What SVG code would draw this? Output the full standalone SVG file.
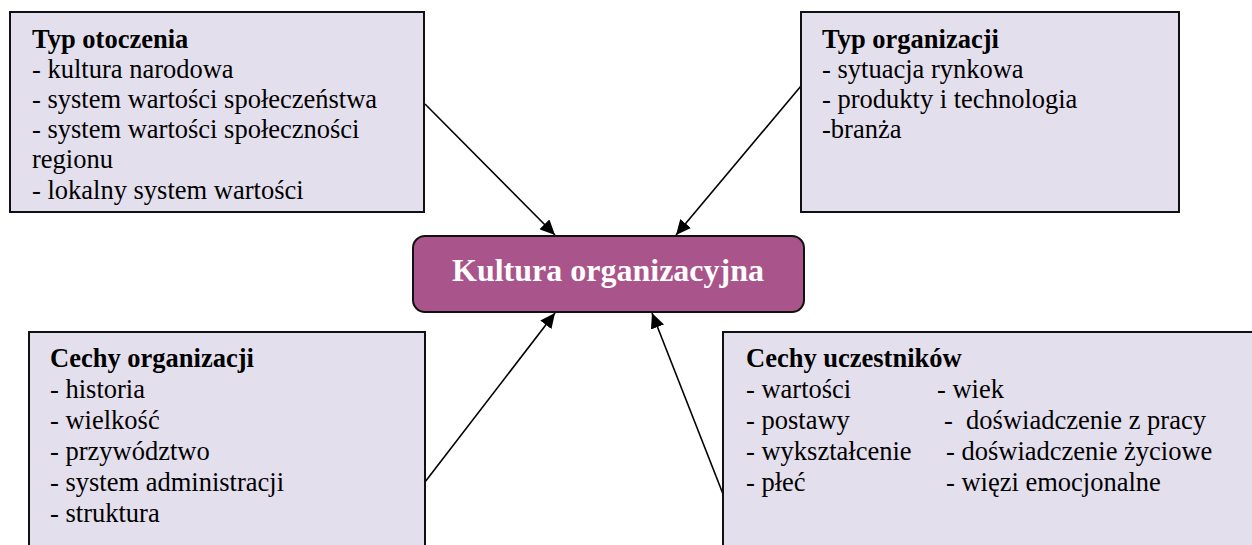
<svg xmlns="http://www.w3.org/2000/svg" width="1252" height="545" viewBox="0 0 1252 545">
  <style>
    .box { fill: #E4DFEC; stroke: #111; stroke-width: 2; }
    .core { fill: #A9548A; stroke: #111; stroke-width: 2; }
    .txt { font-size: 26.5px; fill: #000; }
    .hd { font-weight: bold; }
    .coretxt { font-size: 32px; font-weight: bold; fill: #fff; }
    .link { stroke: #000; stroke-width: 1.6; fill: none; }
  </style>
  <defs>
    <marker id="arrow" markerWidth="16" markerHeight="14" refX="15" refY="7" orient="auto" markerUnits="userSpaceOnUse">
      <path d="M0,0 L15,7 L0,14 Z" fill="#000"/>
    </marker>
  </defs>
  <rect width="1252" height="545" fill="#fff"/>

  <g id="connectors">
    <line class="link" marker-end="url(#arrow)" x1="425" y1="104" x2="555" y2="235"/>
    <line class="link" marker-end="url(#arrow)" x1="801" y1="86" x2="676" y2="235"/>
    <line class="link" marker-end="url(#arrow)" x1="425" y1="482" x2="555" y2="313"/>
    <line class="link" marker-end="url(#arrow)" x1="723" y1="494" x2="652" y2="313"/>
  </g>

  <g id="typ-otoczenia">
    <rect class="box" x="10" y="12" width="414" height="200"/>
    <text class="txt hd" font-family="Liberation Serif" x="32" y="48">Typ otoczenia</text>
    <text class="txt" font-family="Liberation Serif" x="32" y="78">- kultura narodowa</text>
    <text class="txt" font-family="Liberation Serif" x="32" y="108">- system wartości społeczeństwa</text>
    <text class="txt" font-family="Liberation Serif" x="32" y="138">- system wartości społeczności</text>
    <text class="txt" font-family="Liberation Serif" x="32" y="168">regionu</text>
    <text class="txt" font-family="Liberation Serif" x="32" y="199">- lokalny system wartości</text>
  </g>

  <g id="typ-organizacji">
    <rect class="box" x="801" y="12" width="378" height="200"/>
    <text class="txt hd" font-family="Liberation Serif" x="822" y="48">Typ organizacji</text>
    <text class="txt" font-family="Liberation Serif" x="822" y="78">- sytuacja rynkowa</text>
    <text class="txt" font-family="Liberation Serif" x="822" y="108">- produkty i technologia</text>
    <text class="txt" font-family="Liberation Serif" x="822" y="138">-branża</text>
  </g>

  <g id="kultura-organizacyjna">
    <rect class="core" x="413" y="236" width="391" height="76" rx="12" ry="12"/>
    <text class="coretxt" font-family="Liberation Serif" x="608" y="281" text-anchor="middle">Kultura organizacyjna</text>
  </g>

  <g id="cechy-organizacji">
    <rect class="box" x="29" y="332" width="396" height="230"/>
    <text class="txt hd" font-family="Liberation Serif" x="50" y="367">Cechy organizacji</text>
    <text class="txt" font-family="Liberation Serif" x="50" y="398">- historia</text>
    <text class="txt" font-family="Liberation Serif" x="50" y="429">- wielkość</text>
    <text class="txt" font-family="Liberation Serif" x="50" y="460">- przywództwo</text>
    <text class="txt" font-family="Liberation Serif" x="50" y="491">- system administracji</text>
    <text class="txt" font-family="Liberation Serif" x="50" y="522">- struktura</text>
  </g>

  <g id="cechy-uczestnikow">
    <rect class="box" x="723" y="332" width="560" height="230"/>
    <text class="txt hd" font-family="Liberation Serif" x="746" y="367">Cechy uczestników</text>
    <text class="txt" font-family="Liberation Serif" x="746" y="398">- wartości</text>
    <text class="txt" font-family="Liberation Serif" x="746" y="429">- postawy</text>
    <text class="txt" font-family="Liberation Serif" x="746" y="460">- wykształcenie</text>
    <text class="txt" font-family="Liberation Serif" x="746" y="491">- płeć</text>
    <text class="txt" font-family="Liberation Serif" x="937" y="398">- wiek</text>
    <text class="txt" font-family="Liberation Serif" x="944" y="429">-&#160; doświadczenie z pracy</text>
    <text class="txt" font-family="Liberation Serif" x="946" y="460">- doświadczenie życiowe</text>
    <text class="txt" font-family="Liberation Serif" x="946" y="491">- więzi emocjonalne</text>
  </g>
</svg>
